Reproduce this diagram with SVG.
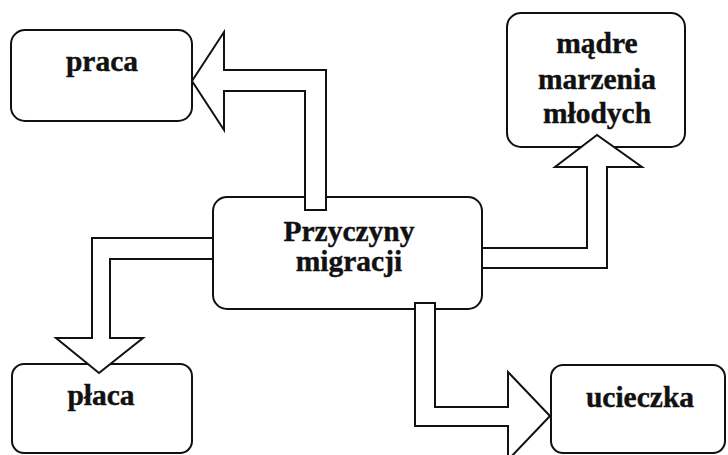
<svg xmlns="http://www.w3.org/2000/svg" width="728" height="455" viewBox="0 0 728 455">
<style>
.box{fill:#fff;stroke:#111;stroke-width:2}
.arr{fill:#fff;stroke:#111;stroke-width:2;stroke-linejoin:miter}
.t{font-family:"Liberation Serif","Times New Roman",serif;font-weight:bold;font-size:29.5px;fill:#111;stroke:#111;stroke-width:0.4;text-anchor:middle}
</style>
<rect width="728" height="455" fill="#fff"/>
<g id="node-praca"><rect class="box" x="11" y="30" width="181" height="91" rx="14"/><text class="t" x="102" y="71">praca</text></g>
<g id="node-madre"><rect class="box" x="507" y="13" width="178" height="134" rx="14"/><text class="t" x="597" y="53">mądre</text><text class="t" x="597" y="89">marzenia</text><text class="t" x="597" y="123">młodych</text></g>
<g id="node-przyczyny"><rect class="box" x="213" y="197" width="269" height="112" rx="14"/><text class="t" x="349" y="241">Przyczyny</text><text class="t" x="349" y="271">migracji</text></g>
<g id="node-placa"><rect class="box" x="12" y="364" width="180" height="89" rx="12"/><text class="t" x="101" y="405">płaca</text></g>
<g id="node-ucieczka"><rect class="box" x="551" y="365" width="174" height="88" rx="12"/><text class="t" x="640" y="407">ucieczka</text></g>
<g id="connectors">
<polygon class="arr" points="192,81 224,32 224,70 326,70 326,210 305,210 305,91 224,91 224,130"/>
<polygon class="arr" points="213,238 92,238 92,338 56,338 99,373 143,338 110,338 110,259 213,259"/>
<polygon class="arr" points="482,248 587,248 587,167 555,167 597,135 642,167 607,167 607,268 482,268"/>
<polygon class="arr" points="415,303 435,303 435,407 508,407 508,372 550,416 508,460 508,426 415,426"/>
</g>
</svg>
